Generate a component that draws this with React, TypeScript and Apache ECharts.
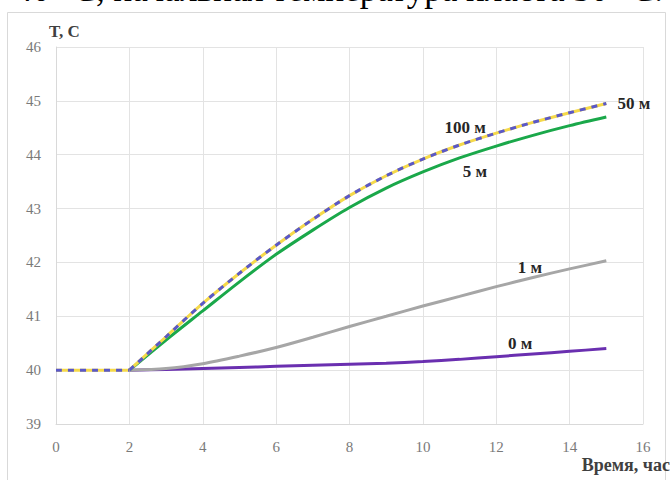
import React, { useEffect, useRef } from "react";
import * as echarts from "echarts";

// Before heating starts every depth stays at the initial temperature
const idleHours = [0, 1, 2];
const idleTemp = [40, 40, 40];

// Time after heating starts, hours
const hours = [2, 3, 4, 5, 6, 7, 8, 9, 10, 11, 12, 13, 14, 15];

// Temperature, °C, at different distances
const temp100m = [40, 40.62, 41.24, 41.8, 42.32, 42.8, 43.24, 43.61, 43.92, 44.18, 44.4, 44.6, 44.78, 44.95];
const temp50m = [40, 40.62, 41.24, 41.8, 42.32, 42.8, 43.24, 43.61, 43.92, 44.18, 44.4, 44.6, 44.78, 44.95];
const temp5m = [40, 40.56, 41.1, 41.64, 42.15, 42.6, 43.02, 43.38, 43.68, 43.94, 44.16, 44.36, 44.54, 44.7];
const temp1m = [40, 40.03, 40.12, 40.26, 40.42, 40.61, 40.81, 41.0, 41.19, 41.37, 41.55, 41.72, 41.88, 42.03];
const temp0m = [40, 40.01, 40.03, 40.05, 40.07, 40.09, 40.11, 40.13, 40.16, 40.2, 40.25, 40.3, 40.35, 40.4];

// Where each curve's name is written (time, temperature)
const labelSpots: Record<string, [number, number]> = {
  "100 м": [11.15, 44.51],
  "50 м": [15.75, 44.96],
  "5 м": [11.42, 43.68],
  "1 м": [12.92, 41.91],
  "0 м": [12.65, 40.5],
};

const xTicks = { min: 0, max: 16, step: 2 };
const yTicks = { min: 39, max: 46, step: 1 };

const serif = "Liberation Serif";

function pairs(xs: number[], values: number[]) {
  return xs.map((h, i) => [h, values[i]]);
}

function nameMark(name: string) {
  return {
    symbol: "rect",
    symbolSize: 1,
    itemStyle: { color: "rgba(0,0,0,0)" },
    label: {
      show: true,
      position: "inside",
      formatter: name,
      fontFamily: serif,
      fontWeight: "bold",
      fontSize: 17,
      color: "#262626",
    },
    data: [{ coord: labelSpots[name] }],
  };
}

const COLORS = {
  "0 м": "#6a2fb0",
  "1 м": "#a6a6a6",
  "5 м": "#1aa84a",
  "100 м": "#f5d94a",
  "50 м": "#5a58c8",
};

export default function App() {
  const ref = useRef<HTMLDivElement>(null);

  useEffect(() => {
    if (!ref.current) return;
    const chart = echarts.init(ref.current, undefined, { renderer: "svg" });
    const line = (name: string, xs: number[], values: number[], color: string, extra: any = {}, withLabel = true) => ({
      name,
      type: "line",
      data: pairs(xs, values),
      smooth: 0.3,
      showSymbol: false,
      symbol: "none",
      lineStyle: { color, width: 3, ...extra },
      markPoint: withLabel ? nameMark(name) : undefined,
      z: 2,
    });
    chart.setOption({
      animation: false,
      backgroundColor: "#ffffff",
      grid: { left: 56, top: 47, right: 27, bottom: 56 },
      xAxis: {
        type: "value",
        min: xTicks.min,
        max: xTicks.max,
        interval: xTicks.step,
        axisLine: { show: true, lineStyle: { color: "#d9d9d9", width: 1 } },
        axisTick: { show: false },
        splitLine: { show: true, lineStyle: { color: "#e3e3e3", width: 1 } },
        axisLabel: { fontFamily: serif, fontSize: 15, color: "#7a7a7a", margin: 15 },
      },
      yAxis: {
        type: "value",
        min: yTicks.min,
        max: yTicks.max,
        interval: yTicks.step,
        axisLine: { show: true, lineStyle: { color: "#d9d9d9", width: 1 } },
        axisTick: { show: false },
        splitLine: { show: true, lineStyle: { color: "#e3e3e3", width: 1 } },
        axisLabel: { fontFamily: serif, fontSize: 15, color: "#7a7a7a", margin: 15 },
      },
      series: [
        line("0 м", hours, temp0m, COLORS["0 м"]),
        line("1 м", hours, temp1m, COLORS["1 м"]),
        line("5 м", hours, temp5m, COLORS["5 м"]),
        line("100 м", hours, temp100m, COLORS["100 м"]),
        line("50 м", hours, temp50m, COLORS["50 м"], { type: [6, 6] }),
        line("idle", idleHours, idleTemp, COLORS["100 м"], {}, false),
        line("idle-dash", idleHours, idleTemp, COLORS["50 м"], { type: [6, 6] }, false),
      ],
      graphic: [
        {
          type: "text",
          x: 15,
          y: 7,
          style: {
            text: "40 °С, начальная температура пласта 30 °С.",
            fontFamily: serif,
            fontSize: 35,
            fill: "#000000",
            verticalAlign: "bottom",
          },
          z: 10,
        },
        {
          type: "rect",
          shape: { x: 7.5, y: 12.5, width: 658, height: 480 },
          style: { fill: "none", stroke: "#d9d9d9", lineWidth: 1 },
          silent: true,
        },
        {
          type: "text",
          x: 49,
          y: 31,
          style: {
            text: "T, C",
            fontFamily: serif,
            fontWeight: "bold",
            fontSize: 17,
            fill: "#404040",
            verticalAlign: "middle",
          },
        },
        {
          type: "text",
          x: 670,
          y: 465,
          style: {
            text: "Время, час",
            fontFamily: serif,
            fontWeight: "bold",
            fontSize: 18,
            fill: "#404040",
            align: "right",
            verticalAlign: "middle",
          },
        },
      ],
    });
    return () => chart.dispose();
  }, []);

  return (
    <div
      ref={ref}
      style={{ position: "absolute", left: 0, top: 0, width: 670, height: 480 }}
    />
  );
}
